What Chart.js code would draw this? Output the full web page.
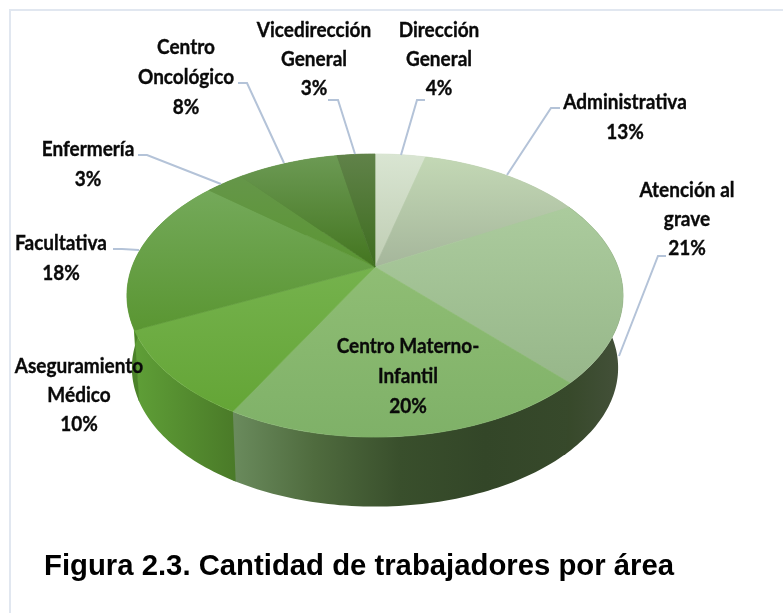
<!DOCTYPE html>
<html><head><meta charset="utf-8">
<style>html,body{margin:0;padding:0;background:#fff}#w{position:relative;width:783px;height:613px}</style>
<script src="https://cdn.jsdelivr.net/npm/chart.js@4"></script>
</head><body><div id="w"><canvas id="c" width="783" height="613"></canvas></div>
<script>
const categories = [["Dirección","General"],["Administrativa"],["Atención al","grave"],["Centro Materno-","Infantil"],["Aseguramiento","Médico"],["Facultativa"],["Enfermería"],["Centro","Oncológico"],["Vicedirección","General"]];
const values = [4,13,21,20,10,18,3,8,3];
const chartTitle = "Figura 2.3. Cantidad de trabajadores por área";

const topLight = ["#d9e5d2","#c3d8b5","#abcb9d","#8fbd74","#75b24d","#74a95a","#659649","#6c9a54","#608249"];
const topDark  = ["#bfcdb3","#a5b69b","#97b78a","#7fb168","#64a536","#5a9632","#5b9633","#43751f","#3e6d1f"];
const wallStops = [
  ["#c0cfb4","#c0cfb4"],["#a5b69b","#a5b69b"],["#364829","#44513a"],
  ["#6b8c5e","#4f6b3e","#394f2c","#334628","#37492b"],
  ["#5f9f37","#4a7a28"],["#4a8028","#5a9a34"],["#4a8028","#4a8028"],["#43751f","#43751f"],["#3e6d1f","#3e6d1f"]];
const labelAnchors = [[439,31,29],[625,103,30],[687,191,29],[408,347,30],[79,367,29],[61,244,30],[88,150,30],[186,48,30],[314,31,29]];
const leaders = [
  [[425,100],[417,100],[401,155]],
  [[560,108],[551,108],[507,175]],
  [[666,256],[658,256],[619,356]],
  null,null,
  [[113,249],[122,249],[139,250]],
  [[138,155],[147,155],[221,184]],
  [[238,83],[247,83],[284,163]],
  [[328,100],[338,100],[355,154]]];

const TILT = 0.559, PERSP = 0.2014, DEPTH = 0.30, SHRINK = 0.98, LABEL_XSCALE = 0.95;
function project(arc, angle, lower){
  const r = arc.outerRadius, u = Math.cos(angle), v = -Math.sin(angle);
  const w = 1 + PERSP*v, s = lower ? SHRINK : 1;
  return [arc.x + s*r*u/w, arc.y + (lower ? DEPTH*r : 0) - s*r*TILT*v/w];
}
function rim(arc, lower, reverse, extra){
  const end=arc.endAngle+(extra||0), span=end-arc.startAngle;
  const pts=[], n=Math.max(6,Math.ceil(span/0.02));
  for(let i=0;i<=n;i++){const t=reverse?1-i/n:i/n;pts.push(project(arc,arc.startAngle+t*span,lower));}
  return pts;
}
const pie3d = {
  id:'pie3d',
  beforeDraw(chart){
    const ctx=chart.ctx; ctx.save();
    ctx.fillStyle='#fff'; ctx.fillRect(0,0,chart.width,chart.height);
    ctx.fillStyle='#e1e7f0'; ctx.fillRect(9,9,chart.width-9,2); ctx.fillRect(9,9,2,chart.height-9);
    ctx.restore();
  },
  beforeDatasetsDraw(chart){
    const ctx=chart.ctx, arcs=chart.getDatasetMeta(0).data;
    ctx.save();
    arcs.forEach((arc,i)=>{
      const a=rim(arc,false,false,0.012), b=rim(arc,true,true,0.012), pts=a.concat(b);
      const xs=pts.map(p=>p[0]), x0=Math.min(...xs), x1=Math.max(...xs);
      const g=ctx.createLinearGradient(x0,0,x1,0);
      wallStops[i].forEach((c,k,all)=>g.addColorStop(k/(all.length-1),c));
      ctx.beginPath(); pts.forEach((p,k)=>k?ctx.lineTo(p[0],p[1]):ctx.moveTo(p[0],p[1])); ctx.closePath();
      ctx.fillStyle=g; ctx.fill();
    });
    arcs.forEach((arc,i)=>{
      const pts=[[arc.x,arc.y]].concat(rim(arc,false,false));
      const ys=pts.map(p=>p[1]);
      const g=ctx.createLinearGradient(0,Math.min(...ys),0,Math.max(...ys));
      g.addColorStop(0,topLight[i]); g.addColorStop(1,topDark[i]);
      ctx.beginPath(); pts.forEach((p,k)=>k?ctx.lineTo(p[0],p[1]):ctx.moveTo(p[0],p[1])); ctx.closePath();
      ctx.fillStyle=g; ctx.strokeStyle=g; ctx.lineWidth=0.7; ctx.fill(); ctx.stroke();
    });
    ctx.restore();
    return false;
  },
  afterDraw(chart){
    const ctx=chart.ctx; ctx.save();
    ctx.strokeStyle='#b4c3d8'; ctx.lineWidth=2;
    leaders.forEach(l=>{ if(!l) return; ctx.beginPath(); l.forEach((p,k)=>k?ctx.lineTo(p[0],p[1]):ctx.moveTo(p[0],p[1])); ctx.stroke(); });
    ctx.fillStyle='#0a0a0a'; ctx.strokeStyle='#0a0a0a'; ctx.lineWidth=0.35; ctx.textAlign='center'; ctx.textBaseline='middle';
    ctx.font='bold 20px Lato,"Liberation Sans",sans-serif';
    categories.forEach((lines,i)=>{
      const [x,y,dy]=labelAnchors[i];
      lines.concat([values[i]+'%']).forEach((t,k)=>{
        ctx.save(); ctx.translate(x,y+k*dy); ctx.scale(LABEL_XSCALE,1); ctx.fillText(t,0,0); ctx.strokeText(t,0,0); ctx.restore();
      });
    });
    ctx.textAlign='left'; ctx.textBaseline='alphabetic'; ctx.fillStyle='#000';
    ctx.font='bold 29.3px "Liberation Sans",Arial,sans-serif';
    ctx.fillText(chartTitle,44,575);
    ctx.restore();
  }
};
new Chart(document.getElementById('c'),{
  type:'pie',
  data:{labels:categories.map(l=>l.join(' ')),datasets:[{data:values,backgroundColor:topLight,borderWidth:0}]},
  options:{responsive:false,animation:false,
    layout:{padding:{left:132,right:165,top:24,bottom:103}},
    plugins:{legend:{display:false},tooltip:{enabled:false},title:{display:false}}},
  plugins:[pie3d]
});
</script></body></html>
